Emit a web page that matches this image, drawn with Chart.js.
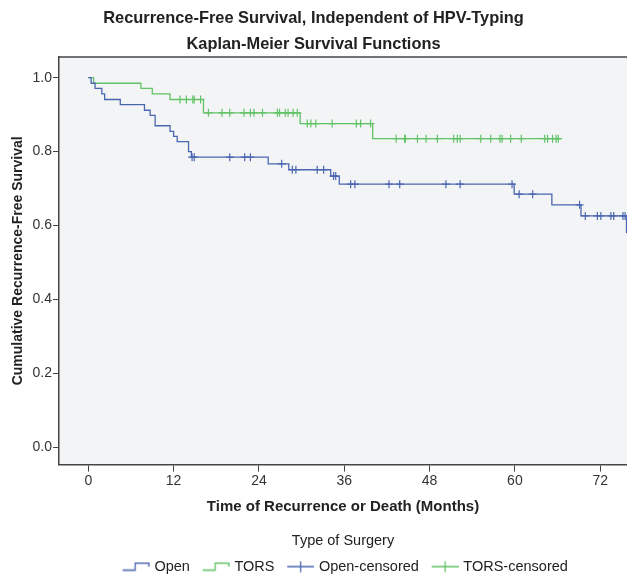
<!DOCTYPE html>
<html>
<head>
<meta charset="utf-8">
<script src="https://cdn.jsdelivr.net/npm/chart.js@4.4.1/dist/chart.umd.min.js"></script>
<style>
  html, body { margin: 0; padding: 0; background: #fff; overflow: hidden; }
  #wrap { width: 633px; height: 577px; }
</style>
</head>
<body>
<div id="wrap"><canvas id="chartKM"></canvas></div>
<script>
// Open surgery: event times (months) and survival after each step
const openTimes = [0, 0.4, 0.95, 1.9, 2.3, 4.5, 7.9, 8.7, 9.4, 11.5, 12.0, 12.5, 14.1, 14.5, 25.3, 28.2, 34.1, 35.3, 59.9, 65.2, 69.3, 75.7];
const openSurv  = [1.0, 0.985, 0.971, 0.956, 0.941, 0.927, 0.912, 0.898, 0.870, 0.855, 0.841, 0.827, 0.800, 0.785, 0.767, 0.751, 0.734, 0.712, 0.685, 0.656, 0.626, 0.580];
const openCensored = [14.6, 14.9, 19.9, 22.0, 22.8, 27.2, 28.7, 29.2, 32.2, 33.1, 34.5, 34.8, 36.9, 37.5, 42.3, 43.8,
                      50.3, 52.3, 59.6, 60.6, 62.5, 69.1, 69.9, 71.6, 72.1, 73.5, 73.9, 75.2, 75.5];

// TORS
const torsTimes = [0, 0.75, 7.4, 9.0, 11.5, 16.2, 29.8, 40.0, 66.5];
const torsSurv  = [1.0, 0.985, 0.971, 0.956, 0.941, 0.905, 0.876, 0.835, 0.835];
const torsCensored = [12.9, 13.8, 14.7, 14.9, 15.8, 16.9, 18.8, 19.9, 21.9, 22.8, 23.3, 24.5, 26.6, 26.9, 27.7, 28.1,
                      28.8, 29.4, 30.8, 31.3, 32.0, 34.3, 37.7, 38.3, 39.7, 43.3, 44.5, 44.6, 46.3, 47.5, 49.1, 51.4,
                      51.9, 52.3, 55.2, 56.6, 57.9, 58.2, 59.4, 60.9, 64.2, 64.6, 65.3, 65.8, 66.1];

const xTicks = [0, 12, 24, 36, 48, 60, 72];
const yTicks = [0.0, 0.2, 0.4, 0.6, 0.8, 1.0];

const BLUE = '#4b66b1';
const GREEN = '#62c266';
const FONT = "'Liberation Sans', Arial, sans-serif";

// level of the step curve at time t (for placing censor marks)
function survAt(times, surv, t) {
    let s = surv[0];
    for (let i = 0; i < times.length; i++) {
        if (times[i] <= t) s = surv[i];
    }
    return s;
}

function toPoints(times, surv) {
    return times.map((t, i) => ({ x: t, y: surv[i] }));
}

function censorPoints(list, times, surv) {
    return list.map(t => ({ x: t, y: survAt(times, surv, t) }));
}

// small legend icons (canvas wider than the legend box so the icon sits near its text)
function stepIcon(color) {
    const c = document.createElement('canvas');
    c.width = 34; c.height = 10;
    const g = c.getContext('2d');
    g.strokeStyle = color;
    g.lineWidth = 1.3;
    g.beginPath();
    g.moveTo(7, 8.5); g.lineTo(19.5, 8.5); g.lineTo(19.5, 1.5); g.lineTo(33, 1.5); g.lineTo(33, 5);
    g.stroke();
    return c;
}

function censorIcon(color) {
    const c = document.createElement('canvas');
    c.width = 34; c.height = 12;
    const g = c.getContext('2d');
    g.strokeStyle = color;
    g.lineWidth = 1.3;
    g.beginPath();
    g.moveTo(7, 6); g.lineTo(34, 6);
    g.moveTo(20.5, 0.5); g.lineTo(20.5, 11.5);
    g.stroke();
    return c;
}

const plotBackground = {
    id: 'plotBackground',
    beforeDraw(chart) {
        const { ctx, chartArea: a } = chart;
        ctx.save();
        ctx.fillStyle = '#f3f4f6';
        ctx.fillRect(a.left, a.top, a.right - a.left, a.bottom - a.top);
        ctx.restore();
    },
    afterDraw(chart) {
        const { ctx, chartArea: a } = chart;
        ctx.save();
        ctx.strokeStyle = '#444';
        ctx.lineWidth = 1.5;
        ctx.beginPath();
        ctx.moveTo(a.left, a.top);
        ctx.lineTo(a.right, a.top);
        ctx.stroke();
        ctx.restore();
    }
};

function dibujarKM() {
    const ctx = document.getElementById('chartKM');

    new Chart(ctx, {
        type: 'scatter',
        data: {
            datasets: [
                {
                    label: 'Open',
                    data: toPoints(openTimes, openSurv),
                    showLine: true,
                    stepped: 'before',
                    borderColor: BLUE,
                    borderWidth: 1.3,
                    pointRadius: 0
                },
                {
                    label: 'TORS',
                    data: toPoints(torsTimes, torsSurv),
                    showLine: true,
                    stepped: 'before',
                    borderColor: GREEN,
                    borderWidth: 1.3,
                    pointRadius: 0
                },
                {
                    label: 'Open-censored',
                    data: censorPoints(openCensored, openTimes, openSurv),
                    pointStyle: 'cross',
                    pointRadius: 4,
                    borderColor: BLUE,
                    borderWidth: 1.2
                },
                {
                    label: 'TORS-censored',
                    data: censorPoints(torsCensored, torsTimes, torsSurv),
                    pointStyle: 'cross',
                    pointRadius: 4,
                    borderColor: GREEN,
                    borderWidth: 1.2
                }
            ]
        },
        options: {
            responsive: true,
            maintainAspectRatio: false,
            animation: false,
            layout: { padding: { left: 0, right: 6, top: 0, bottom: -6.85 } },
            plugins: {
                tooltip: { enabled: false },
                title: {
                    display: true,
                    text: ['Recurrence-Free Survival, Independent of HPV-Typing', 'Kaplan-Meier Survival Functions'],
                    color: '#222',
                    font: { family: FONT, size: 16.4, weight: 'bold', lineHeight: 26 / 16.4 },
                    padding: { top: 5, bottom: 0 }
                },
                legend: {
                    position: 'bottom',
                    fullSize: false,
                    title: {
                        display: true,
                        text: 'Type of Surgery',
                        color: '#222',
                        font: { family: FONT, size: 14.5 },
                        padding: { top: 0, bottom: -0.4 }
                    },
                    labels: {
                        usePointStyle: true,
                        pointStyleWidth: 29,
                        padding: 8.25,
                        color: '#222',
                        font: { family: FONT, size: 14.5 },
                        generateLabels: () => [
                            { text: 'Open', pointStyle: stepIcon(BLUE), fillStyle: BLUE, strokeStyle: BLUE, lineWidth: 0, datasetIndex: 0 },
                            { text: 'TORS', pointStyle: stepIcon(GREEN), fillStyle: GREEN, strokeStyle: GREEN, lineWidth: 0, datasetIndex: 1 },
                            { text: 'Open-censored', pointStyle: censorIcon(BLUE), fillStyle: BLUE, strokeStyle: BLUE, lineWidth: 0, datasetIndex: 2 },
                            { text: 'TORS-censored', pointStyle: censorIcon(GREEN), fillStyle: GREEN, strokeStyle: GREEN, lineWidth: 0, datasetIndex: 3 }
                        ]
                    },
                    onClick: null
                }
            },
            scales: {
                x: {
                    type: 'linear',
                    min: -4.12,
                    max: 75.77,
                    afterBuildTicks: (scale) => { scale.ticks = xTicks.map(v => ({ value: v })); },
                    afterFit: (scale) => {
                        scale.height = 69.45;
                        scale.paddingLeft = 0;
                        scale.paddingRight = 0;
                    },
                    grid: { drawOnChartArea: false, drawTicks: true, tickLength: 7, color: '#444' },
                    border: { display: true, color: '#444', width: 1.5 },
                    ticks: { color: '#333', padding: 1, font: { family: FONT, size: 14 } },
                    title: {
                        display: true,
                        text: 'Time of Recurrence or Death (Months)',
                        color: '#222',
                        font: { family: FONT, size: 15, weight: 'bold' },
                        padding: { top: 0, bottom: 18.45 }
                    }
                },
                y: {
                    type: 'linear',
                    min: -0.0468,
                    max: 1.056,
                    afterBuildTicks: (scale) => { scale.ticks = yTicks.map(v => ({ value: v })); },
                    afterFit: (scale) => {
                        scale.width = 59;
                        scale.paddingTop = 0;
                        scale.paddingBottom = 0;
                    },
                    grid: { drawOnChartArea: false, drawTicks: true, tickLength: 6, color: '#444' },
                    border: { display: true, color: '#444', width: 1.5 },
                    ticks: {
                        color: '#333',
                        padding: 1,
                        font: { family: FONT, size: 14 },
                        callback: (v) => Number(v).toFixed(1)
                    },
                    title: {
                        display: true,
                        text: 'Cumulative Recurrence-Free Survival',
                        color: '#222',
                        font: { family: FONT, size: 14, weight: 'bold' },
                        padding: { top: 9.6, bottom: 0 }
                    }
                }
            }
        },
        plugins: [plotBackground]
    });
}

dibujarKM();
</script>
</body>
</html>
